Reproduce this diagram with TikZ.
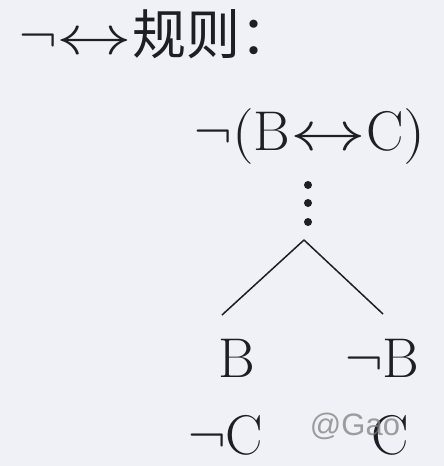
\documentclass[tikz,border=0pt]{standalone}
\usepackage{unicode-math}
\usepackage{graphicx}
\setmathfont{Latin Modern Math}
\newfontfamily\cjk{Noto Sans CJK SC}
\newfontfamily\wmfont{Liberation Sans}
\definecolor{bg}{HTML}{EFF1F6}
\definecolor{ink}{HTML}{1E1E24}
\newcommand\mylra{\mathord{\scalebox{1.35}[1]{$\leftrightarrow$}}}
\begin{document}
\begin{tikzpicture}[x=1pt,y=-1pt,
  lbl/.style={inner sep=0pt,anchor=base,text=ink,font=\fontsize{56}{60}\selectfont},
  dotm/.style={fill=ink,draw=none},
  edge/.style={draw=ink,line width=1.5pt}]
\fill[bg] (0,0) rectangle (444,466);
\useasboundingbox (0,0) rectangle (444,466);
\node[lbl,anchor=base west] (title) at (19,54) {$\neg\mylra$\cjk\fontsize{54}{58}\selectfont 规则：};
\node[lbl] (f) at (310,150) {$\neg(\mathrm{B}\mylra\mathrm{C})$};
\fill[dotm] (308,185) circle (4pt) coordinate (d1);
\fill[dotm] (308,203) circle (4pt) coordinate (d2);
\fill[dotm] (308,222) circle (4pt) coordinate (d3);
\coordinate (apex) at (304,240);
\coordinate (lend) at (222,315);
\coordinate (rend) at (383,314);
\draw[edge] (apex) -- (lend);
\draw[edge] (apex) -- (rend);
\node[lbl] (b) at (237,377) {$\mathrm{B}$};
\node[lbl] (nb) at (382,377) {$\neg\mathrm{B}$};
\node[lbl] (nc) at (226,454) {$\neg\mathrm{C}$};
\node[lbl] (c) at (390,454) {$\mathrm{C}$};
\node[inner sep=0pt,text=gray,opacity=0.75,font=\wmfont\fontsize{31}{34}\selectfont] (wm) at (355,426) {@Gao};
\end{tikzpicture}
\end{document}
